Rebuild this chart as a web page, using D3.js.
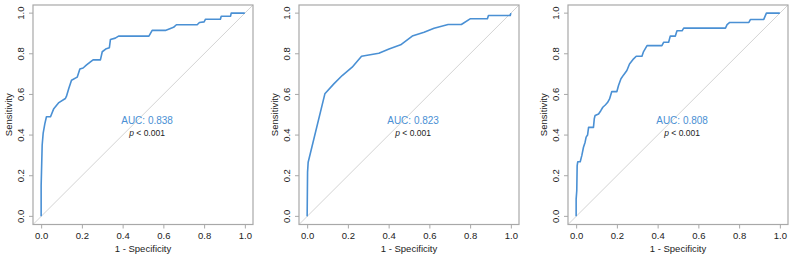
<!DOCTYPE html>
<html>
<head>
<meta charset="utf-8">
<script src="https://cdn.jsdelivr.net/npm/d3@7"></script>
<style>
  body { margin: 0; background: #fff; }
  text { font-family: "Liberation Sans", Arial, sans-serif; }
</style>
</head>
<body>
<div id="roc"></div>
<script>
// ROC curve points (1 - specificity, sensitivity)
var fpr1 = [0, 0.000, 0.005, 0.010, 0.018, 0.026, 0.046, 0.062, 0.087, 0.119, 0.124, 0.136, 0.149, 0.177, 0.190, 0.206, 0.223, 0.242, 0.255, 0.291, 0.300, 0.320, 0.335, 0.340, 0.364, 0.380, 0.529, 0.545, 0.610, 0.650, 0.664, 0.766, 0.777, 0.800, 0.807, 0.880, 0.884, 0.930, 0.933, 1.0];
var tpr1 = [0, 0.150, 0.350, 0.410, 0.455, 0.490, 0.490, 0.530, 0.560, 0.580, 0.590, 0.630, 0.670, 0.685, 0.725, 0.730, 0.745, 0.760, 0.770, 0.770, 0.810, 0.825, 0.830, 0.870, 0.877, 0.887, 0.887, 0.915, 0.915, 0.930, 0.943, 0.943, 0.954, 0.957, 0.970, 0.970, 0.985, 0.985, 1.0, 1.0];

var fpr2 = [0, 0.002, 0.005, 0.087, 0.131, 0.172, 0.221, 0.267, 0.352, 0.402, 0.459, 0.516, 0.574, 0.623, 0.692, 0.757, 0.800, 0.885, 0.890, 0.997, 1.0];
var tpr2 = [0, 0.217, 0.266, 0.603, 0.652, 0.693, 0.734, 0.788, 0.803, 0.824, 0.844, 0.887, 0.906, 0.926, 0.944, 0.944, 0.972, 0.972, 0.988, 0.988, 1.0];

var fpr3 = [0, 0.000, 0.003, 0.005, 0.008, 0.020, 0.028, 0.036, 0.044, 0.049, 0.056, 0.061, 0.085, 0.089, 0.093, 0.110, 0.121, 0.131, 0.143, 0.154, 0.164, 0.175, 0.200, 0.208, 0.220, 0.233, 0.249, 0.262, 0.282, 0.295, 0.323, 0.331, 0.348, 0.421, 0.430, 0.454, 0.462, 0.487, 0.495, 0.520, 0.528, 0.733, 0.741, 0.754, 0.848, 0.856, 0.921, 0.934, 1.0];
var tpr3 = [0, 0.085, 0.126, 0.250, 0.269, 0.269, 0.300, 0.340, 0.365, 0.390, 0.400, 0.438, 0.438, 0.480, 0.496, 0.504, 0.520, 0.537, 0.548, 0.560, 0.578, 0.614, 0.614, 0.644, 0.677, 0.696, 0.718, 0.750, 0.775, 0.788, 0.788, 0.811, 0.840, 0.840, 0.857, 0.857, 0.887, 0.887, 0.913, 0.913, 0.926, 0.926, 0.943, 0.954, 0.954, 0.969, 0.969, 1.0, 1.0];

var aucLabels = ["AUC: 0.838", "AUC: 0.823", "AUC: 0.808"];
var pLabels = ["< 0.001", "< 0.001", "< 0.001"];
var tickValues = [0, 0.2, 0.4, 0.6, 0.8, 1.0];
var tickLabels = ["0.0", "0.2", "0.4", "0.6", "0.8", "1.0"];

var curves = [
  {fpr: fpr1, tpr: tpr1},
  {fpr: fpr2, tpr: tpr2},
  {fpr: fpr3, tpr: tpr3}
];

var W = 795, H = 258;
var boxLeft = [33, 299, 568],
    boxW = 220,
    boxTop = 5,
    boxBottom = 224.5;
var blue = "#4a90d4", gray = "#a8a8a8", ink = "#222";

var svg = d3.select("#roc").append("svg")
    .attr("width", W)
    .attr("height", H);

curves.forEach(function(c, k) {
  var g = svg.append("g");

  // R-style 4% padding around [0,1]
  var x = d3.scaleLinear().domain([-0.04, 1.04]).range([boxLeft[k], boxLeft[k] + boxW]);
  var y = d3.scaleLinear().domain([-0.04, 1.04]).range([boxBottom, boxTop]);

  // diagonal reference line across the plot region
  g.append("line")
    .attr("x1", x(-0.04)).attr("y1", y(-0.04))
    .attr("x2", x(1.04)).attr("y2", y(1.04))
    .attr("stroke", "#d4d4d4")
    .attr("stroke-width", 1);

  // x axis
  var xa = g.append("g")
    .attr("transform", "translate(0," + boxBottom + ")")
    .call(d3.axisBottom(x).tickValues(tickValues)
      .tickFormat(function(d, i) { return tickLabels[i]; })
      .tickSize(4).tickPadding(4));
  xa.select(".domain").remove();
  xa.selectAll("line").attr("stroke", gray);
  xa.selectAll("text").attr("font-size", "9.5px").attr("fill", ink)
    .attr("font-family", "Liberation Sans, Arial, sans-serif");

  // y axis, labels turned like R's default
  var ya = g.append("g")
    .attr("transform", "translate(" + boxLeft[k] + ",0)")
    .call(d3.axisLeft(y).tickValues(tickValues)
      .tickFormat(function(d, i) { return tickLabels[i]; })
      .tickSize(4));
  ya.select(".domain").remove();
  ya.selectAll("line").attr("stroke", gray);
  ya.selectAll("text")
    .attr("font-size", "9.5px").attr("fill", ink)
    .attr("font-family", "Liberation Sans, Arial, sans-serif")
    .attr("x", null).attr("dy", null)
    .attr("text-anchor", "middle")
    .attr("transform", function(d) { return "translate(-9," + y(d) + ") rotate(-90)"; })
    .attr("y", 0);
  ya.selectAll(".tick").attr("transform", function() { return null; });
  ya.selectAll(".tick line").attr("transform", function(d) { return "translate(0," + y(d) + ")"; });

  // frame
  g.append("rect")
    .attr("x", boxLeft[k]).attr("y", boxTop)
    .attr("width", boxW).attr("height", boxBottom - boxTop)
    .attr("fill", "none")
    .attr("stroke", gray)
    .attr("stroke-width", 1.2);

  // ROC curve
  var pts = c.fpr.map(function(v, i) { return [v, c.tpr[i]]; });
  g.append("path")
    .datum(pts)
    .attr("fill", "none")
    .attr("stroke", blue)
    .attr("stroke-width", 1.6)
    .attr("stroke-linejoin", "round")
    .attr("d", d3.line().x(function(d) { return x(d[0]); }).y(function(d) { return y(d[1]); }));

  // annotations
  var cx = x(0.52);
  g.append("text")
    .attr("x", cx).attr("y", y(0.47) + 3.5)
    .attr("text-anchor", "middle")
    .attr("font-size", "10px")
    .attr("fill", blue)
    .text(aucLabels[k]);

  var pt = g.append("text")
    .attr("x", cx).attr("y", y(0.41) + 3)
    .attr("text-anchor", "middle")
    .attr("font-size", "8.5px")
    .attr("fill", ink);
  pt.append("tspan").attr("font-style", "italic").text("p");
  pt.append("tspan").text(" " + pLabels[k]);

  // axis titles
  g.append("text")
    .attr("x", x(0.5)).attr("y", 252)
    .attr("text-anchor", "middle")
    .attr("font-size", "9.5px")
    .attr("fill", ink)
    .text("1 - Specificity");

  g.append("text")
    .attr("transform", "translate(" + (boxLeft[k] - 21) + "," + y(0.5) + ") rotate(-90)")
    .attr("text-anchor", "middle")
    .attr("font-size", "9.5px")
    .attr("fill", ink)
    .text("Sensitivity");
});
</script>
</body>
</html>
